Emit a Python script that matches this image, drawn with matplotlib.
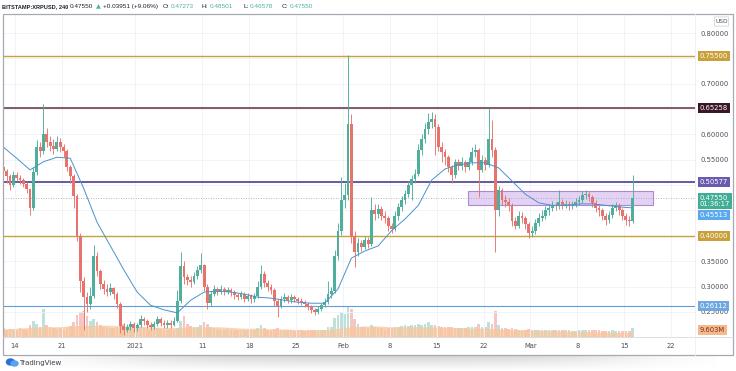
import datetime as dt

import matplotlib
matplotlib.use('Agg')
import matplotlib.dates as mdates
import matplotlib.pyplot as plt
import matplotlib.transforms as mtransforms
import numpy as np
import pandas as pd
from matplotlib.patches import Ellipse, FancyBboxPatch, Rectangle

# ── Data (12h candles) ───────────────────────────────────────────────────────

CANDLE_START = '2020-12-12 06:00'
FIRST_OPEN = 0.535

CLOSES = [
    0.528, 0.518, 0.500, 0.520, 0.515, 0.510, 0.503, 0.492, 0.455, 0.525,
    0.575, 0.568, 0.600, 0.585, 0.578, 0.572, 0.585, 0.575, 0.568, 0.535,
    0.518, 0.478, 0.400, 0.310, 0.280, 0.265, 0.282, 0.360, 0.330, 0.305,
    0.296, 0.290, 0.297, 0.285, 0.266, 0.222, 0.215, 0.220, 0.226, 0.218,
    0.224, 0.236, 0.232, 0.225, 0.220, 0.226, 0.236, 0.228, 0.224, 0.229,
    0.225, 0.232, 0.272, 0.340, 0.318, 0.312, 0.308, 0.320, 0.332, 0.342,
    0.300, 0.268, 0.286, 0.296, 0.290, 0.296, 0.290, 0.294, 0.289, 0.284,
    0.280, 0.286, 0.276, 0.281, 0.275, 0.281, 0.300, 0.325, 0.306, 0.300,
    0.294, 0.272, 0.262, 0.276, 0.280, 0.274, 0.279, 0.275, 0.271, 0.270,
    0.265, 0.260, 0.254, 0.250, 0.256, 0.263, 0.270, 0.285, 0.292, 0.360,
    0.410, 0.470, 0.480, 0.620, 0.400, 0.368, 0.385, 0.378, 0.392, 0.384,
    0.450, 0.443, 0.452, 0.440, 0.436, 0.420, 0.414, 0.440, 0.456, 0.470,
    0.482, 0.500, 0.512, 0.522, 0.570, 0.590, 0.610, 0.625, 0.630, 0.615,
    0.576, 0.565, 0.556, 0.535, 0.520, 0.545, 0.538, 0.546, 0.535, 0.545,
    0.565, 0.570, 0.530, 0.550, 0.540, 0.590, 0.570, 0.450, 0.490, 0.470,
    0.466, 0.460, 0.430, 0.420, 0.440, 0.435, 0.424, 0.405, 0.410, 0.426,
    0.436, 0.440, 0.450, 0.455, 0.460, 0.459, 0.466, 0.460, 0.462, 0.458,
    0.461, 0.466, 0.470, 0.480, 0.483, 0.477, 0.465, 0.455, 0.450, 0.440,
    0.432, 0.441, 0.455, 0.460, 0.450, 0.440, 0.432, 0.430, 0.4755,
]

HIGHS = [
    0.545, 0.532, 0.522, 0.528, 0.526, 0.520, 0.514, 0.507, 0.495, 0.535,
    0.588, 0.585, 0.660, 0.612, 0.596, 0.590, 0.596, 0.592, 0.582, 0.572,
    0.540, 0.522, 0.482, 0.405, 0.318, 0.290, 0.300, 0.382, 0.368, 0.335,
    0.312, 0.305, 0.306, 0.300, 0.290, 0.270, 0.228, 0.226, 0.232, 0.230,
    0.229, 0.244, 0.240, 0.236, 0.230, 0.232, 0.242, 0.240, 0.233, 0.234,
    0.233, 0.240, 0.293, 0.368, 0.350, 0.325, 0.320, 0.328, 0.340, 0.366,
    0.345, 0.304, 0.292, 0.302, 0.300, 0.303, 0.299, 0.300, 0.298, 0.293,
    0.288, 0.292, 0.289, 0.287, 0.285, 0.288, 0.310, 0.342, 0.330, 0.312,
    0.304, 0.297, 0.276, 0.282, 0.288, 0.284, 0.286, 0.284, 0.279, 0.277,
    0.274, 0.270, 0.264, 0.258, 0.261, 0.268, 0.278, 0.310, 0.300, 0.372,
    0.425, 0.516, 0.505, 0.756, 0.640, 0.410, 0.395, 0.392, 0.400, 0.398,
    0.477, 0.462, 0.462, 0.458, 0.448, 0.440, 0.425, 0.448, 0.465, 0.478,
    0.490, 0.508, 0.520, 0.532, 0.582, 0.600, 0.622, 0.642, 0.645, 0.640,
    0.620, 0.585, 0.572, 0.560, 0.540, 0.552, 0.552, 0.555, 0.550, 0.555,
    0.575, 0.582, 0.574, 0.560, 0.556, 0.652, 0.628, 0.575, 0.498, 0.494,
    0.480, 0.474, 0.465, 0.438, 0.448, 0.446, 0.440, 0.428, 0.420, 0.434,
    0.444, 0.450, 0.458, 0.462, 0.468, 0.467, 0.490, 0.472, 0.470, 0.468,
    0.468, 0.474, 0.478, 0.488, 0.490, 0.488, 0.480, 0.470, 0.460, 0.455,
    0.445, 0.448, 0.462, 0.466, 0.464, 0.454, 0.444, 0.440, 0.520,
]

LOWS = [
    0.520, 0.505, 0.490, 0.496, 0.508, 0.502, 0.496, 0.485, 0.441, 0.450,
    0.520, 0.555, 0.562, 0.575, 0.568, 0.562, 0.568, 0.566, 0.555, 0.528,
    0.505, 0.455, 0.390, 0.290, 0.214, 0.250, 0.255, 0.278, 0.320, 0.296,
    0.286, 0.282, 0.284, 0.276, 0.258, 0.208, 0.205, 0.210, 0.214, 0.210,
    0.212, 0.220, 0.225, 0.218, 0.214, 0.216, 0.222, 0.222, 0.218, 0.219,
    0.219, 0.222, 0.230, 0.268, 0.305, 0.302, 0.300, 0.304, 0.315, 0.326,
    0.292, 0.256, 0.262, 0.282, 0.284, 0.286, 0.284, 0.286, 0.282, 0.276,
    0.274, 0.275, 0.270, 0.271, 0.268, 0.270, 0.278, 0.296, 0.300, 0.292,
    0.285, 0.262, 0.240, 0.258, 0.270, 0.268, 0.268, 0.269, 0.265, 0.264,
    0.259, 0.254, 0.248, 0.244, 0.246, 0.252, 0.259, 0.266, 0.278, 0.288,
    0.352, 0.402, 0.455, 0.470, 0.385, 0.338, 0.360, 0.370, 0.374, 0.376,
    0.380, 0.432, 0.436, 0.432, 0.426, 0.410, 0.405, 0.410, 0.432, 0.448,
    0.462, 0.476, 0.470, 0.505, 0.518, 0.560, 0.584, 0.600, 0.612, 0.560,
    0.568, 0.545, 0.540, 0.525, 0.505, 0.515, 0.530, 0.530, 0.525, 0.530,
    0.540, 0.555, 0.476, 0.525, 0.530, 0.536, 0.555, 0.368, 0.440, 0.460,
    0.456, 0.448, 0.420, 0.414, 0.416, 0.426, 0.414, 0.396, 0.398, 0.404,
    0.420, 0.430, 0.434, 0.442, 0.448, 0.450, 0.452, 0.452, 0.454, 0.450,
    0.452, 0.456, 0.460, 0.465, 0.472, 0.468, 0.456, 0.446, 0.440, 0.432,
    0.422, 0.426, 0.436, 0.448, 0.442, 0.432, 0.422, 0.420, 0.426,
]

# volume in millions, one value per candle
VOLUMES = [
    12, 10, 11, 9, 10, 12, 11, 10, 16, 22, 18, 14, 38, 16, 13, 12, 11, 12, 10, 14, 15,
    20, 30, 34, 36, 28, 22, 25, 20, 16, 14, 13, 12, 12, 14, 22, 18, 14, 12, 11, 12,
    14, 12, 11, 10, 11, 12, 11, 10, 10, 11, 10, 12, 22, 28, 18, 15, 13, 14, 16, 20,
    18, 14, 12, 11, 10, 10, 11, 9, 9, 9, 10, 9, 9, 9, 9, 12, 16, 12, 10, 9,
    11, 12, 10, 9, 9, 9, 8, 9, 9, 8, 9, 9, 10, 9, 9, 10, 13, 14, 26, 30,
    34, 32, 42, 38, 24, 18, 14, 13, 12, 16, 14, 12, 12, 11, 12, 12, 13, 14, 15, 16,
    15, 16, 16, 18, 17, 18, 20, 17, 16, 15, 14, 14, 13, 14, 12, 12, 12, 12, 13, 14,
    14, 18, 14, 14, 20, 18, 36, 16, 12, 12, 11, 12, 11, 10, 10, 10, 11, 10, 10, 10,
    9, 9, 9, 9, 9, 10, 9, 9, 9, 8, 8, 9, 9, 9, 9, 9, 9, 9, 8, 8,
    8, 9, 8, 8, 8, 8, 8, 12,
]

# moving average and volume average, sampled every 4th candle
MA_STEP = 4
MA_LINE = [
    0.575, 0.553, 0.530, 0.546, 0.555, 0.553, 0.494, 0.427, 0.380, 0.333,
    0.289, 0.263, 0.254, 0.248, 0.273, 0.289, 0.291, 0.289, 0.285, 0.279,
    0.277, 0.273, 0.269, 0.267, 0.267, 0.295, 0.356, 0.370, 0.380, 0.410,
    0.433, 0.460, 0.510, 0.532, 0.540, 0.544, 0.544, 0.534, 0.508, 0.482,
    0.465, 0.460, 0.460, 0.463, 0.463, 0.460, 0.457, 0.455,
]
VOL_MA = [
    11, 12, 13, 14, 14, 15, 16, 16, 16, 15,
    15, 14, 13, 13, 14, 14, 14, 13, 12, 12,
    11, 11, 10, 10, 10, 12, 14, 15, 15, 14,
    14, 14, 14, 13, 13, 12, 12, 11, 10, 10,
    9, 9, 8, 8, 7, 7, 6, 6,
]

LEVELS = [0.75500, 0.65258, 0.50577, 0.40000, 0.26112]
LAST_PRICE = 0.47550
LAST_COUNTDOWN = '01:36:17'
MA_LAST = 0.45513
LAST_VOLUME = '9.603M'

ZONE_START = dt.datetime(2021, 2, 19, 16)
ZONE_END = dt.datetime(2021, 3, 19, 8)
ZONE_LOW, ZONE_HIGH = 0.4608, 0.4884

TICK_DATES = [dt.datetime(2020, 12, 14), dt.datetime(2020, 12, 21), dt.datetime(2021, 1, 1),
              dt.datetime(2021, 1, 11), dt.datetime(2021, 1, 18), dt.datetime(2021, 1, 25),
              dt.datetime(2021, 2, 1), dt.datetime(2021, 2, 8), dt.datetime(2021, 2, 15),
              dt.datetime(2021, 2, 22), dt.datetime(2021, 3, 1), dt.datetime(2021, 3, 8),
              dt.datetime(2021, 3, 15), dt.datetime(2021, 3, 22)]
TICK_LABELS = ['14', '21', '2021', '11', '18', '25', 'Feb', '8', '15', '22', 'Mar', '8', '15', '22']

Y_TICKS = [0.25, 0.30, 0.35, 0.40, 0.45, 0.50, 0.55, 0.60, 0.65, 0.70, 0.75, 0.80]
Y_TICK_LABELS = ['0.25000', '0.30000', '0.35000', '', '', '', '0.55000', '0.60000',
                 '', '0.70000', '', '0.80000']

# header pieces: text, colour key, weight, left edge in pixels
HEADER = [('BITSTAMP:XRPUSD, 240', 'dark', 'bold', 2), ('0.47550', 'dark', 'normal', 70),
          ('▲', 'up', 'normal', 95.5), ('+0.03951 (+9.06%)', 'dark', 'normal', 103),
          ('O:', 'dark', 'normal', 163), ('0.47273', 'up', 'normal', 170.5),
          ('H:', 'dark', 'normal', 202), ('0.48501', 'up', 'normal', 210),
          ('L:', 'dark', 'normal', 243), ('0.46578', 'up', 'normal', 249.5),
          ('C:', 'dark', 'normal', 282), ('0.47550', 'up', 'normal', 290)]

# ── Style ────────────────────────────────────────────────────────────────────

W, H = 736, 371
PLOT_L, PLOT_R, PLOT_T, PLOT_B = 3, 695, 14, 337
UP, DOWN = '#4fae9c', '#e8736c'
TEXT = '#4c4f58'
LEVEL_COLOURS = ['#c9a13a', '#5e2f3f', '#5b4d99', '#c9a13a', '#5f9fd8']
LABEL_COLOURS = ['#c9a13a', '#3a1626', '#6a5ab0', '#c9a13a', '#6ea7e2']
LEVEL_WIDTHS = [1.0, 1.1, 1.3, 1.0, 0.8]


def price_label(ax, y, text, face, fg='white', dy=0.0):
    tr = mtransforms.blended_transform_factory(ax.transAxes, ax.transData)
    ax.annotate(text, xy=(1.0, y), xycoords=tr, xytext=(3.3, dy),
                textcoords='offset points', ha='left', va='center',
                fontsize=4.9, color=fg, linespacing=1.05,
                bbox=dict(boxstyle='square,pad=0.28', fc=face, ec='none'),
                annotation_clip=False, zorder=6)


def main():
    dates = pd.date_range(CANDLE_START, periods=len(CLOSES), freq='12h')
    xs = mdates.date2num(dates.to_pydatetime())
    closes = np.array(CLOSES)
    opens = np.concatenate([[FIRST_OPEN], closes[:-1]])
    highs, lows = np.array(HIGHS), np.array(LOWS)
    up = closes >= opens
    colours = np.where(up, UP, DOWN)

    fig = plt.figure(figsize=(W / 100, H / 100), dpi=100)
    fig.patch.set_facecolor('white')
    rect = [PLOT_L / W, 1 - PLOT_B / H, (PLOT_R - PLOT_L) / W, (PLOT_B - PLOT_T) / H]
    axv = fig.add_axes(rect, zorder=0)
    ax = fig.add_axes(rect, zorder=1)
    ov = fig.add_axes([0, 0, 1, 1], zorder=2)

    xlim = (mdates.date2num(dt.datetime(2020, 12, 12, 5)),
            mdates.date2num(dt.datetime(2021, 3, 25, 14)))

    # volume pane (behind price)
    axv.set_xlim(xlim)
    axv.set_ylim(0, 440)
    axv.bar(xs, VOLUMES, width=0.4, color=np.where(up, '#a9d9cf', '#f3b3ae'),
            alpha=0.75, linewidth=0)
    axv.fill_between(xs[::MA_STEP], 0, VOL_MA, color='#f8c79e', alpha=0.75, lw=0)
    axv.axis('off')

    # price pane
    ax.set_facecolor('none')
    ax.set_xlim(xlim)
    ax.set_ylim(0.2004, 0.8375)
    ax.set_axisbelow(True)
    ax.grid(True, color='#eff1f5', lw=0.6)
    for s in ax.spines.values():
        s.set_visible(False)

    ax.set_xticks(mdates.date2num(TICK_DATES))
    ax.set_xticklabels(TICK_LABELS)
    ax.yaxis.tick_right()
    ax.set_yticks(Y_TICKS)
    ax.set_yticklabels(Y_TICK_LABELS)
    ax.tick_params(axis='x', length=0, pad=4.5, labelsize=4.9, labelcolor=TEXT)
    ax.tick_params(axis='y', length=0, pad=3.8, labelsize=4.9, labelcolor=TEXT)

    ax.add_patch(Rectangle((mdates.date2num(ZONE_START), ZONE_LOW),
                           mdates.date2num(ZONE_END) - mdates.date2num(ZONE_START),
                           ZONE_HIGH - ZONE_LOW, facecolor='#d9bff0', alpha=0.7,
                           edgecolor='#8f63c4', lw=0.8, zorder=1))

    for lvl, c, lw in zip(LEVELS, LEVEL_COLOURS, LEVEL_WIDTHS):
        ax.axhline(lvl, color=c, lw=lw, zorder=2)
    ax.axhline(LAST_PRICE, color='#9aa0a8', lw=0.6, ls=(0, (1, 2)), zorder=2)

    ax.vlines(xs, lows, highs, colors=colours, lw=0.65, zorder=3)
    ax.bar(xs, np.abs(closes - opens), bottom=np.minimum(opens, closes), width=0.42,
           color=colours, linewidth=0, zorder=3)

    ax.plot(xs[::MA_STEP], MA_LINE, color='#4a93c9', lw=0.7, zorder=4)

    # price-scale labels
    for lvl, c in zip(LEVELS, LABEL_COLOURS):
        price_label(ax, lvl, f'{lvl:.5f}', c)
    price_label(ax, LAST_PRICE, f'{LAST_PRICE:.5f}\n{LAST_COUNTDOWN}', '#3fae94', dy=-2.6)
    price_label(ax, MA_LAST, f'{MA_LAST:.5f}', '#5aa8ee', dy=-5.2)
    tr = mtransforms.blended_transform_factory(ax.transAxes, axv.transData)
    ax.annotate(LAST_VOLUME, xy=(1.0, VOLUMES[-1] - 2.5), xycoords=tr, xytext=(3.3, 0),
                textcoords='offset points', ha='left', va='center', fontsize=4.9,
                color='#7a3210', bbox=dict(boxstyle='square,pad=0.28', fc='#f6b98e', ec='none'),
                annotation_clip=False, zorder=6)

    # frame, header and footer in pixel coordinates
    ov.set_xlim(0, W)
    ov.set_ylim(H, 0)
    ov.axis('off')
    ov.patch.set_visible(False)

    yy, xx = np.mgrid[0:1:20j, 0:1:200j]
    shade = (1 - yy) * np.exp(-((xx - 0.5) / 0.38) ** 4)
    img = np.ones((20, 200, 4))
    img[..., :3] = 0.55
    img[..., 3] = 0.35 * shade
    ov.imshow(img, extent=(20, 716, 371, 356), aspect='auto', zorder=0)

    ov.add_patch(Rectangle((PLOT_L, PLOT_T), 733 - PLOT_L, 355 - PLOT_T, fill=False,
                           edgecolor='#a6a9b1', lw=0.9))
    ov.plot([PLOT_L, 733], [PLOT_B, PLOT_B], color='#d6d9df', lw=0.6)
    ov.plot([PLOT_R, PLOT_R], [PLOT_T, 355], color='#eceef2', lw=0.6)

    ov.add_patch(FancyBboxPatch((715, 17.5), 13, 8, boxstyle='round,pad=0.6',
                                fc='white', ec='#c9ccd3', lw=0.5))
    ov.text(721.5, 21.7, 'USD', fontsize=4.2, color=TEXT, ha='center', va='center')

    for text, col, weight, x in HEADER:
        size = 4.1 if weight == 'bold' else 4.6
        family = ['DejaVu Sans'] if text == '▲' else ['Liberation Sans', 'DejaVu Sans']
        ov.text(x, 6.5, text, fontsize=size, fontweight=weight, va='center', ha='left',
                family=family, color='#1e222d' if col == 'dark' else '#4cb39c')

    ov.add_patch(Ellipse((10.5, 362.0), 8, 6, color='#2b6fd6'))
    ov.add_patch(Ellipse((14.5, 363.5), 7, 5, color='#5aa2ec'))
    ov.text(19, 363, 'TradingView', fontsize=5.0, color='#3a3d45', va='center', ha='left')

    fig.savefig('out.png', dpi=100)


if __name__ == '__main__':
    main()
